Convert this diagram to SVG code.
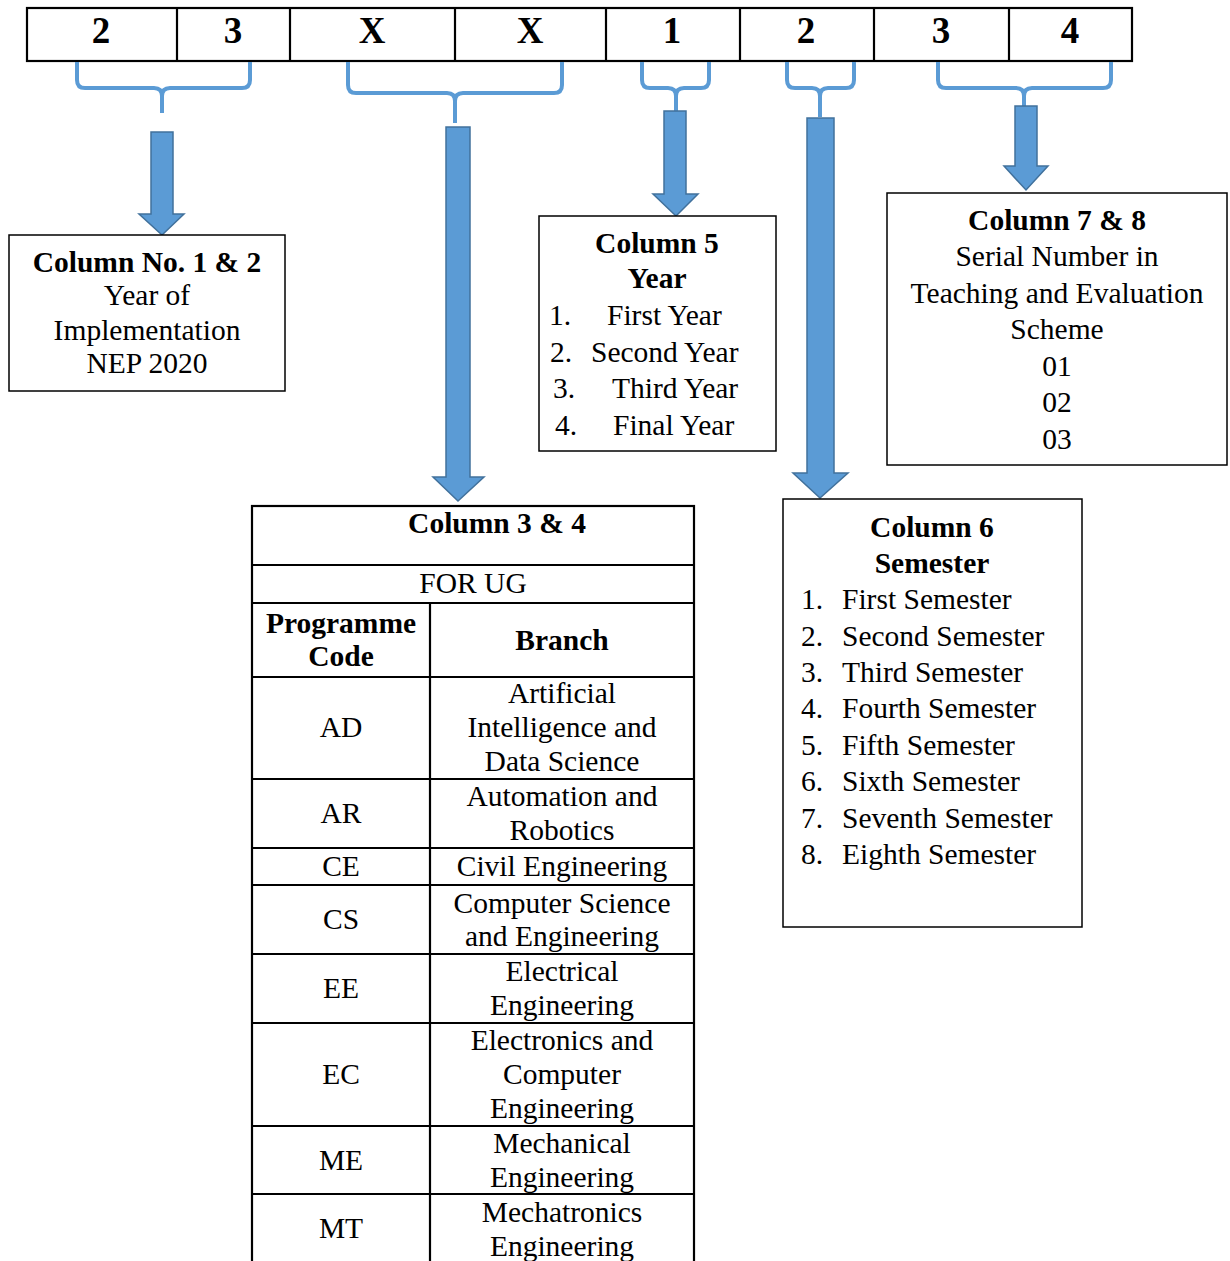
<svg xmlns="http://www.w3.org/2000/svg" width="1230" height="1261" viewBox="0 0 1230 1261">
  <style>
    text { font-family: "Liberation Serif", "Times New Roman", serif; fill: #000; }
    .digit { font-size: 37px; font-weight: bold; text-anchor: middle; }
    .t { font-size: 29.5px; }
    .b { font-size: 29.5px; font-weight: bold; }
    .c { text-anchor: middle; }
    .box { fill: #fff; stroke: #000; stroke-width: 1.5; }
    .cell { fill: #fff; stroke: #000; stroke-width: 2.2; }
    .tl { stroke: #000; stroke-width: 2.2; fill: none; }
    .brace { fill: none; stroke: #5B9BD5; stroke-width: 4; stroke-linejoin: round; }
    .arrow { fill: #5B9BD5; stroke: #41719C; stroke-width: 1.5; stroke-linejoin: miter; }
  </style>

  <!-- Course code digits -->
  <g id="code-row">
    <rect x="27" y="8" width="1105" height="53" class="cell"/>
    <line class="tl" x1="177" y1="8" x2="177" y2="61"/>
    <line class="tl" x1="290" y1="8" x2="290" y2="61"/>
    <line class="tl" x1="455" y1="8" x2="455" y2="61"/>
    <line class="tl" x1="606" y1="8" x2="606" y2="61"/>
    <line class="tl" x1="740" y1="8" x2="740" y2="61"/>
    <line class="tl" x1="874" y1="8" x2="874" y2="61"/>
    <line class="tl" x1="1009" y1="8" x2="1009" y2="61"/>
    <text class="digit" x="101" y="43">2</text>
    <text class="digit" x="233" y="43">3</text>
    <text class="digit" x="372" y="43">X</text>
    <text class="digit" x="530" y="43">X</text>
    <text class="digit" x="672" y="43">1</text>
    <text class="digit" x="806" y="43">2</text>
    <text class="digit" x="941" y="43">3</text>
    <text class="digit" x="1070" y="43">4</text>
  </g>

  <!-- Braces and block arrows -->
  <g id="connectors">
    <path class="brace" d="M77,62 V80 Q77,88 85,88 H154 Q162,88 162,96 V113 M250,62 V80 Q250,88 242,88 H170 Q162,88 162,96"/>
    <path class="brace" d="M348,62 V85 Q348,93 356,93 H447 Q455,93 455,101 V123 M562,62 V85 Q562,93 554,93 H463 Q455,93 455,101"/>
    <path class="brace" d="M642,62 V80 Q642,88 650,88 H668 Q676,88 676,96 V111 M709,62 V80 Q709,88 701,88 H684 Q676,88 676,96"/>
    <path class="brace" d="M787,62 V80 Q787,88 795,88 H812 Q820,88 820,96 V117 M854,62 V80 Q854,88 846,88 H828 Q820,88 820,96"/>
    <path class="brace" d="M938,62 V80 Q938,88 946,88 H1016 Q1024,88 1024,96 V107 M1111,62 V80 Q1111,88 1103,88 H1032 Q1024,88 1024,96"/>

    <path class="arrow" d="M151,132 H173 V214 H184 L162,235 L139,214 H151 Z"/>
    <path class="arrow" d="M446,127 H470 V477 H484 L458,501 L433,477 H446 Z"/>
    <path class="arrow" d="M664,111 H686 V194 H698 L676,216 L653,194 H664 Z"/>
    <path class="arrow" d="M807,118 H834 V473 H848 L820,498 L793,473 H807 Z"/>
    <path class="arrow" d="M1015,106 H1037 V166 H1048 L1026,190 L1004,166 H1015 Z"/>
  </g>

  <!-- Columns 1 and 2 -->
  <g id="col-1-2">
    <rect x="9" y="235" width="276" height="156" class="box"/>
    <text class="b c" x="147" y="272">Column No. 1 &amp; 2</text>
    <text class="t c" x="147" y="305">Year of</text>
    <text class="t c" x="147" y="340">Implementation</text>
    <text class="t c" x="147" y="373">NEP 2020</text>
  </g>

  <!-- Column 5 -->
  <g id="col-5">
    <rect x="539" y="216" width="237" height="235" class="box"/>
    <text class="b c" x="657" y="253">Column 5</text>
    <text class="b c" x="657" y="288">Year</text>
    <text class="t" x="549" y="325">1.</text>
    <text class="t" x="607" y="325">First Year</text>
    <text class="t" x="550" y="362">2.</text>
    <text class="t" x="591" y="362">Second Year</text>
    <text class="t" x="553" y="398">3.</text>
    <text class="t" x="612" y="398">Third Year</text>
    <text class="t" x="555" y="435">4.</text>
    <text class="t" x="613" y="435">Final Year</text>
  </g>

  <!-- Columns 7 and 8 -->
  <g id="col-7-8">
    <rect x="887" y="193" width="340" height="272" class="box"/>
    <text class="b c" x="1057" y="230">Column 7 &amp; 8</text>
    <text class="t c" x="1057" y="266">Serial Number in</text>
    <text class="t c" x="1057" y="303">Teaching and Evaluation</text>
    <text class="t c" x="1057" y="339">Scheme</text>
    <text class="t c" x="1057" y="376">01</text>
    <text class="t c" x="1057" y="412">02</text>
    <text class="t c" x="1057" y="449">03</text>
  </g>

  <!-- Column 6 -->
  <g id="col-6">
    <rect x="783" y="499" width="299" height="428" class="box"/>
    <text class="b c" x="932" y="537">Column 6</text>
    <text class="b c" x="932" y="573">Semester</text>
    <text class="t" x="801" y="609">1.</text><text class="t" x="842" y="609">First Semester</text>
    <text class="t" x="801" y="646">2.</text><text class="t" x="842" y="646">Second Semester</text>
    <text class="t" x="801" y="682">3.</text><text class="t" x="842" y="682">Third Semester</text>
    <text class="t" x="801" y="718">4.</text><text class="t" x="842" y="718">Fourth Semester</text>
    <text class="t" x="801" y="755">5.</text><text class="t" x="842" y="755">Fifth Semester</text>
    <text class="t" x="801" y="791">6.</text><text class="t" x="842" y="791">Sixth Semester</text>
    <text class="t" x="801" y="828">7.</text><text class="t" x="842" y="828">Seventh Semester</text>
    <text class="t" x="801" y="864">8.</text><text class="t" x="842" y="864">Eighth Semester</text>
  </g>

  <!-- Columns 3 and 4: programme table -->
  <g id="col-3-4">
    <rect x="252" y="506" width="442" height="770" class="cell"/>
    <line class="tl" x1="252" y1="565" x2="694" y2="565"/>
    <line class="tl" x1="252" y1="603" x2="694" y2="603"/>
    <line class="tl" x1="252" y1="677" x2="694" y2="677"/>
    <line class="tl" x1="252" y1="779" x2="694" y2="779"/>
    <line class="tl" x1="252" y1="848" x2="694" y2="848"/>
    <line class="tl" x1="252" y1="885" x2="694" y2="885"/>
    <line class="tl" x1="252" y1="954" x2="694" y2="954"/>
    <line class="tl" x1="252" y1="1023" x2="694" y2="1023"/>
    <line class="tl" x1="252" y1="1126" x2="694" y2="1126"/>
    <line class="tl" x1="252" y1="1194" x2="694" y2="1194"/>
    <line class="tl" x1="430" y1="603" x2="430" y2="1261"/>

    <text class="b c" x="497" y="533">Column 3 &amp; 4</text>
    <text class="t c" x="473" y="593">FOR UG</text>
    <text class="b c" x="341" y="633">Programme</text>
    <text class="b c" x="341" y="666">Code</text>
    <text class="b c" x="562" y="650">Branch</text>

    <text class="t c" x="341" y="737">AD</text>
    <text class="t c" x="562" y="703">Artificial</text>
    <text class="t c" x="562" y="737">Intelligence and</text>
    <text class="t c" x="562" y="771">Data Science</text>

    <text class="t c" x="341" y="823">AR</text>
    <text class="t c" x="562" y="806">Automation and</text>
    <text class="t c" x="562" y="840">Robotics</text>

    <text class="t c" x="341" y="876">CE</text>
    <text class="t c" x="562" y="876">Civil Engineering</text>

    <text class="t c" x="341" y="929">CS</text>
    <text class="t c" x="562" y="913">Computer Science</text>
    <text class="t c" x="562" y="946">and Engineering</text>

    <text class="t c" x="341" y="998">EE</text>
    <text class="t c" x="562" y="981">Electrical</text>
    <text class="t c" x="562" y="1015">Engineering</text>

    <text class="t c" x="341" y="1084">EC</text>
    <text class="t c" x="562" y="1050">Electronics and</text>
    <text class="t c" x="562" y="1084">Computer</text>
    <text class="t c" x="562" y="1118">Engineering</text>

    <text class="t c" x="341" y="1170">ME</text>
    <text class="t c" x="562" y="1153">Mechanical</text>
    <text class="t c" x="562" y="1187">Engineering</text>

    <text class="t c" x="341" y="1238">MT</text>
    <text class="t c" x="562" y="1222">Mechatronics</text>
    <text class="t c" x="562" y="1256">Engineering</text>
  </g>
</svg>
